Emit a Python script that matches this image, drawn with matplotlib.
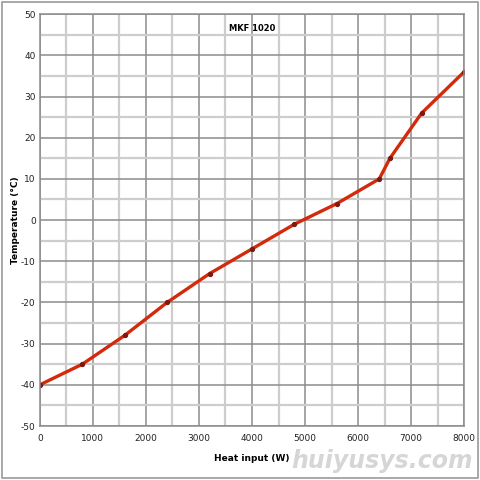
import numpy as np
import matplotlib.pyplot as plt
from matplotlib.patches import Rectangle

plt.rcParams['axes.unicode_minus'] = False

# heat input (W) vs temperature (C)
heat = [0, 800, 1600, 2400, 3200, 4000, 4800, 5600, 6400, 6600, 7200, 8000]
temp = [-40, -35, -28, -20, -13, -7, -1, 4, 10, 15, 26, 36]

fig = plt.figure(figsize=(4.8, 4.8), dpi=100)
ax = fig.add_axes([0.083, 0.1125, 0.884, 0.858])

ax.set_xlim(0, 8000)
ax.set_ylim(-50, 50)
ax.set_xticks(np.arange(0, 8001, 1000))
ax.set_yticks(np.arange(-50, 51, 10))
ax.set_xticks(np.arange(500, 8000, 1000), minor=True)
ax.set_yticks(np.arange(-45, 50, 10), minor=True)
ax.grid(which='major', color='#8c8c8c', linewidth=1.1)
ax.grid(which='minor', color='#cdcdcd', linewidth=1.6)
ax.set_axisbelow(True)
ax.tick_params(which='both', length=0, labelsize=6.5, colors='#222222')
ax.tick_params(axis='x', pad=6)
ax.tick_params(axis='y', pad=3)
for s in ax.spines.values():
    s.set_color('#8c8c8c')
    s.set_linewidth(1.1)

ax.plot(heat, temp, color='#d42a0c', linewidth=2.4, marker='o', markersize=2.8,
        markerfacecolor='#7a1a10', markeredgecolor='#7a1a10', solid_capstyle='round')

ax.text(4000, 46.6, 'MKF 1020', ha='center', va='center', fontsize=6, fontweight='bold')
ax.set_xlabel('Heat input (W)', fontsize=6.5, fontweight='bold', labelpad=8)
ax.set_ylabel('Temperature (°C)', fontsize=6.5, fontweight='bold', labelpad=1)

fig.patches.append(Rectangle((0.004, 0.004), 0.992, 0.992, transform=fig.transFigure,
                             fill=False, edgecolor='#9a9a9a', linewidth=1.2))
fig.text(0.985, 0.015, 'huiyusys.com', ha='right', va='bottom', fontsize=17,
         fontweight='bold', style='italic', color='#d6d6d6')

fig.savefig('out.png', dpi=100)
